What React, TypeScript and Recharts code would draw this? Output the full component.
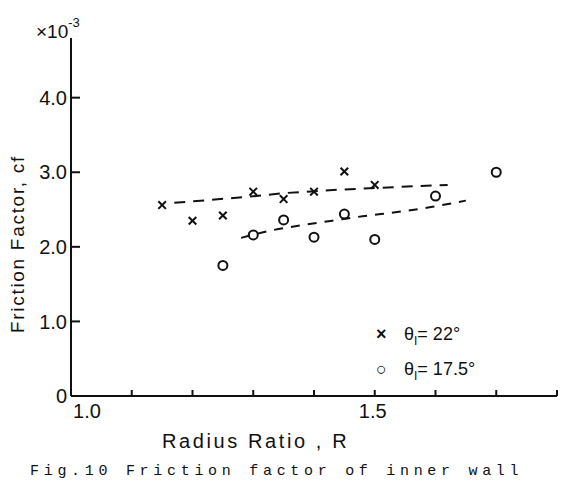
import React from "react";
import { ComposedChart, XAxis, YAxis, Scatter, Line } from "recharts";

// Measured points, theta = 22 deg (crosses)
const crossR = [1.15, 1.2, 1.25, 1.3, 1.35, 1.4, 1.45, 1.5];
const crossCf = [2.56, 2.35, 2.42, 2.74, 2.64, 2.74, 3.01, 2.83];
// Measured points, theta = 17.5 deg (circles)
const circleR = [1.25, 1.3, 1.35, 1.4, 1.45, 1.5, 1.6, 1.7];
const circleCf = [1.75, 2.16, 2.36, 2.13, 2.44, 2.1, 2.68, 3.0];
// Fitted curves (dashed)
const crossFitR = [1.17, 1.29, 1.35, 1.45, 1.53, 1.62];
const crossFitCf = [2.59, 2.67, 2.72, 2.77, 2.8, 2.83];
const circleFitR = [1.28, 1.33, 1.38, 1.43, 1.48, 1.54, 1.59, 1.65];
const circleFitCf = [2.12, 2.22, 2.29, 2.35, 2.41, 2.47, 2.53, 2.62];

const xTicks = [1.0, 1.1, 1.2, 1.3, 1.4, 1.5, 1.6, 1.7, 1.8];
const xLabeled = [1.0, 1.5];
const yTicks = [0, 1, 2, 3, 4];

const crossData = crossR.map((r, i) => ({ r, cf: crossCf[i] }));
const circleData = circleR.map((r, i) => ({ r, cf: circleCf[i] }));
const crossFit = crossFitR.map((r, i) => ({ r, cf: crossFitCf[i] }));
const circleFit = circleFitR.map((r, i) => ({ r, cf: circleFitCf[i] }));

const FONT = "'Liberation Sans', Arial, sans-serif";
const INK = "#111";

const CrossShape = (p: any) => {
  const { cx, cy } = p;
  if (cx == null || cy == null) return null;
  const s = 3.8;
  return (
    <g stroke={INK} strokeWidth={2}>
      <line x1={cx - s} y1={cy - s} x2={cx + s} y2={cy + s} />
      <line x1={cx - s} y1={cy + s} x2={cx + s} y2={cy - s} />
    </g>
  );
};

const CircleShape = (p: any) => {
  const { cx, cy } = p;
  if (cx == null || cy == null) return null;
  return <circle cx={cx} cy={cy} r={4.5} fill="none" stroke={INK} strokeWidth={2} />;
};

const YTick = (p: any) => {
  const { x, y, payload } = p;
  const v = payload.value;
  return (
    <g>
      {v !== 0 && <line x1={x} x2={x + 9} y1={y} y2={y} stroke={INK} strokeWidth={2} />}
      <text x={x - 4} y={y} dy="0.36em" textAnchor="end" fontFamily={FONT} fontSize={20} fill={INK}>
        {v === 0 ? "0" : v.toFixed(1)}
      </text>
    </g>
  );
};

const XTick = (p: any) => {
  const { x, y, payload } = p;
  const v = payload.value;
  const lab = xLabeled.some((t) => Math.abs(t - v) < 1e-6);
  const dx = Math.abs(v - 1.0) < 1e-6 ? 16 : -2;
  return (
    <g>
      {v > 1.0001 && <line x1={x} x2={x} y1={y} y2={y - 6} stroke={INK} strokeWidth={2} />}
      {lab && (
        <text x={x + dx} y={y + 22} textAnchor="middle" fontFamily={FONT} fontSize={20} fill={INK}>
          {v.toFixed(1)}
        </text>
      )}
    </g>
  );
};

export default function App() {
  return (
    <div style={{ position: "relative", width: 558, height: 475, background: "#fff", fontFamily: FONT, color: INK }}>
      <ComposedChart
        width={558}
        height={475}
        margin={{ top: 30, right: 9, left: 13, bottom: 57 }}
      >
        <XAxis
          type="number"
          dataKey="r"
          domain={[1.0, 1.8]}
          ticks={xTicks}
          allowDataOverflow
          height={30}
          tickSize={0}
          tickMargin={0}
          tickLine={false}
          tick={<XTick />}
          axisLine={{ stroke: INK, strokeWidth: 2 }}
          interval={0}
        />
        <YAxis
          type="number"
          dataKey="cf"
          domain={[0, 4.8]}
          ticks={yTicks}
          allowDataOverflow
          width={50}
          tickSize={0}
          tickMargin={0}
          tickLine={false}
          tick={<YTick />}
          axisLine={{ stroke: INK, strokeWidth: 2 }}
          interval={0}
        />
        <Line
          data={crossFit}
          dataKey="cf"
          type="linear"
          stroke={INK}
          strokeWidth={2}
          strokeDasharray="11 8"
          dot={false}
          activeDot={false}
          isAnimationActive={false}
        />
        <Line
          data={circleFit}
          dataKey="cf"
          type="monotone"
          stroke={INK}
          strokeWidth={2}
          strokeDasharray="9 8"
          dot={false}
          activeDot={false}
          isAnimationActive={false}
        />
        <Scatter data={crossData} dataKey="cf" shape={<CrossShape />} isAnimationActive={false} />
        <Scatter data={circleData} dataKey="cf" shape={<CircleShape />} isAnimationActive={false} />
      </ComposedChart>

      {/* axis multiplier */}
      <div style={{ position: "absolute", left: 28, top: 14, fontSize: 19, lineHeight: "20px", whiteSpace: "nowrap" }}>
        ×10<sup style={{ fontSize: 13, verticalAlign: "top", position: "relative", top: -9 }}>-3</sup>
      </div>

      {/* y-axis title */}
      <div style={{ position: "absolute", left: 10, top: 236, width: 0, height: 0 }}>
        <div
          style={{
            position: "absolute",
            transform: "translate(-50%, -50%) rotate(-90deg)",
            fontSize: 19,
            letterSpacing: 1.7,
            whiteSpace: "nowrap",
          }}
        >
          Friction Factor, cf
        </div>
      </div>

      {/* legend */}
      <div style={{ position: "absolute", left: 368, top: 312, fontSize: 18, lineHeight: "28px", whiteSpace: "nowrap" }}>
        <div>
          <span style={{ display: "inline-block", width: 28, fontWeight: "bold" }}>×</span>
          θ<sub style={{ fontSize: 12 }}>I</sub>= 22°
        </div>
        <div>
          <span style={{ display: "inline-block", width: 28 }}>○</span>
          θ<sub style={{ fontSize: 12 }}>I</sub>= 17.5°
        </div>
      </div>

      {/* x-axis title */}
      <div style={{ position: "absolute", left: 154, top: 422, fontSize: 20, letterSpacing: 2.6, whiteSpace: "nowrap" }}>
        Radius Ratio , R
      </div>

      {/* caption */}
      <div
        style={{
          position: "absolute",
          left: 22,
          top: 455,
          fontFamily: "'Liberation Mono', monospace",
          fontSize: 15,
          letterSpacing: 4.7,
          whiteSpace: "nowrap",
        }}
      >
        Fig.10 Friction factor of inner wall
      </div>
    </div>
  );
}
